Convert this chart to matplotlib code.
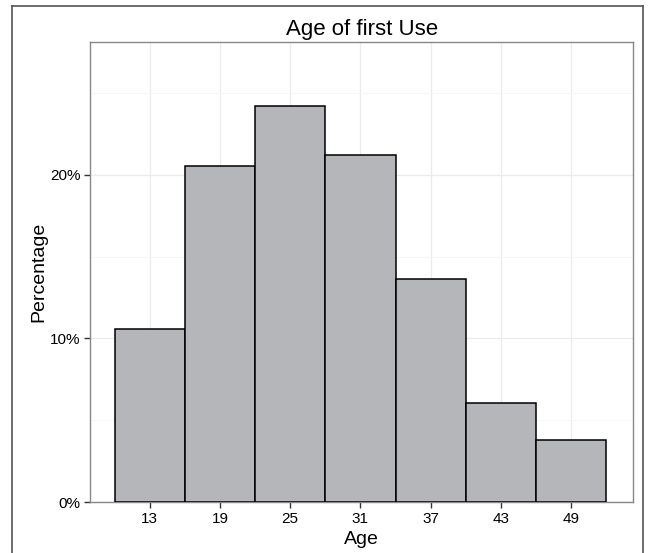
# ==========================================
# AGE OF FIRST USE — HISTOGRAM (PERCENT)
# ==========================================

import matplotlib
matplotlib.use("Agg")
import matplotlib.pyplot as plt
from matplotlib.lines import Line2D
from matplotlib.ticker import FuncFormatter, MultipleLocator

# bin centres (width 6) and share of respondents per bin
ages = [13, 19, 25, 31, 37, 43, 49]
pct = [10.6, 20.5, 24.2, 21.2, 13.6, 6.05, 3.8]
bin_width = 6
y_ticks = [0, 10, 20]

plt.rcParams["font.family"] = ["Liberation Sans", "DejaVu Sans"]

fig = plt.figure(figsize=(6.48, 5.53), dpi=100)
ax = fig.add_axes([0.139, 0.092, 0.838, 0.832])

# outer frame around the figure (left, top, right)
frame = dict(color="#555555", lw=1.2, transform=fig.transFigure)
fig.add_artist(Line2D([12 / 648, 12 / 648], [0, 1 - 6 / 553], **frame))
fig.add_artist(Line2D([12 / 648, 643 / 648], [1 - 6 / 553, 1 - 6 / 553], **frame))
fig.add_artist(Line2D([643 / 648, 643 / 648], [0, 1 - 6 / 553], **frame))

ax.bar(ages, pct, width=bin_width, color="#b4b6b9", edgecolor="black",
       linewidth=1.1, zorder=3)

ax.set_xlim(7.9, 54.3)
ax.set_ylim(0, 28.1)
ax.set_xticks(ages)
ax.xaxis.set_minor_locator(MultipleLocator(6, offset=1))
ax.set_yticks(y_ticks)
ax.yaxis.set_minor_locator(MultipleLocator(5, offset=5))
ax.yaxis.set_major_formatter(FuncFormatter(lambda v, p: f"{v:.0f}%"))

ax.grid(which="major", color="#ebebeb", lw=0.9, zorder=0)
ax.grid(which="minor", color="#f5f5f5", lw=0.6, zorder=0)
ax.tick_params(which="minor", length=0)
ax.tick_params(which="major", direction="out", length=4, width=1,
               color="#333333", labelsize=11, labelcolor="black", pad=3)

for s in ax.spines.values():
    s.set_color("#888888")
    s.set_linewidth(1.0)

ax.set_title("Age of first Use", fontsize=16, pad=5)
ax.set_xlabel("Age", fontsize=14, labelpad=4)
ax.set_ylabel("Percentage", fontsize=14, labelpad=2)

plt.savefig("out.png", dpi=100)
